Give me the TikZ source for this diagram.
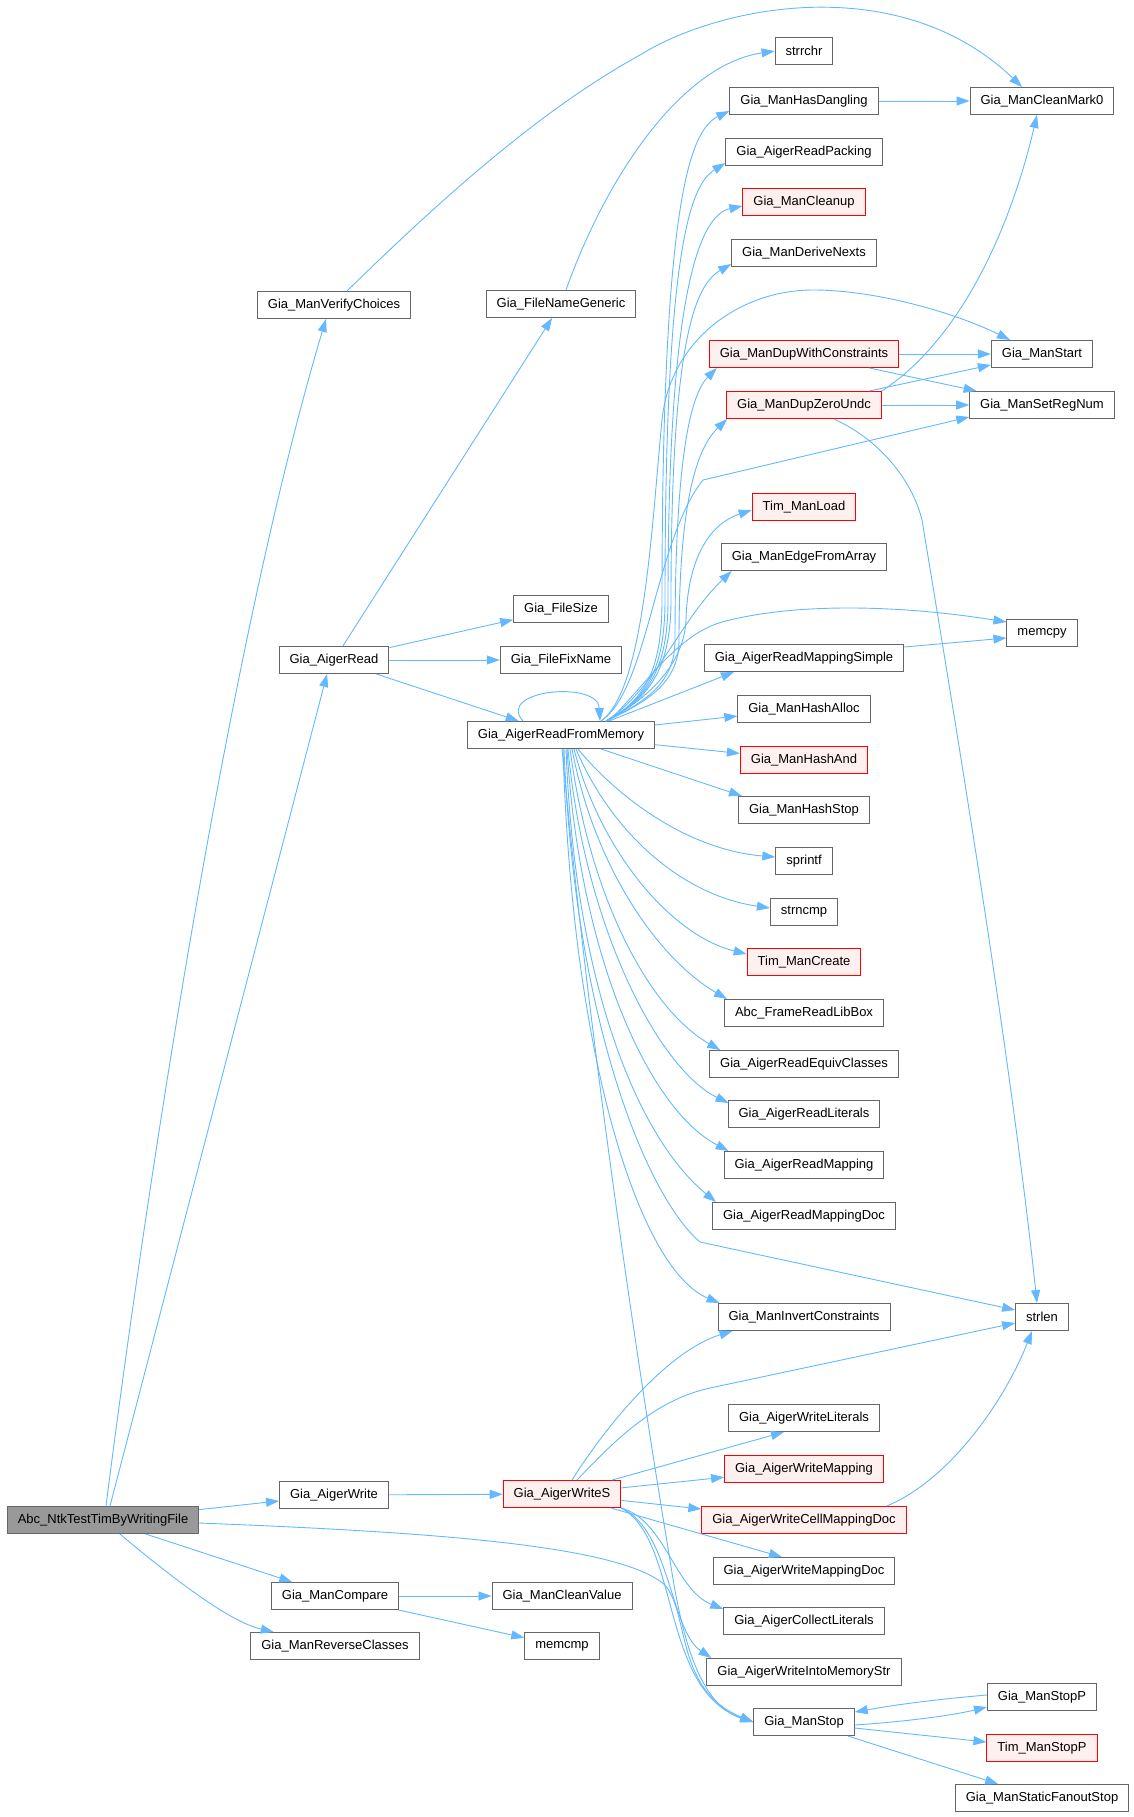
\documentclass[tikz,border=0pt]{standalone}
\usepackage{fontspec}
\setmainfont{Liberation Sans}
\usetikzlibrary{arrows.meta}
\definecolor{edgeblue}{HTML}{63B8FF}
\definecolor{boxgray}{HTML}{666666}
\definecolor{hotfill}{HTML}{FFF0F0}
\definecolor{entryfill}{HTML}{999999}

\begin{document}
\begin{tikzpicture}[
  x=1pt, y=-1pt,
  fn/.style={draw=boxgray, fill=white, line width=1pt, minimum height=27pt, inner xsep=10.5pt, inner ysep=0pt, font=\fontsize{13}{15}\selectfont},
  hot/.style={fn, draw=red, fill=hotfill},
  entry/.style={fn, fill=entryfill},
  edge/.style={-{Triangle[length=13pt,width=9pt]}, draw=edgeblue, line width=0.9pt}
]
\useasboundingbox (0,0) rectangle (1134,1817);

% callers on the left
\node[entry] (root) at (103,1520) {Abc\_NtkTestTimByWritingFile};
\node[fn] (verify) at (334,305) {Gia\_ManVerifyChoices};
\node[fn] (aread) at (334,660) {Gia\_AigerRead};
\node[fn] (awrite) at (334,1495) {Gia\_AigerWrite};
\node[fn] (compare) at (335,1596) {Gia\_ManCompare};
\node[fn] (reverse) at (335,1646) {Gia\_ManReverseClasses};

% second column
\node[fn] (fname) at (561,304) {Gia\_FileNameGeneric};
\node[fn] (fsize) at (561,609) {Gia\_FileSize};
\node[fn] (ffix) at (561,660) {Gia\_FileFixName};
\node[fn] (rmem) at (561,735) {Gia\_AigerReadFromMemory};
\node[hot] (writes) at (562,1494) {Gia\_AigerWriteS};
\node[fn] (cleanval) at (562,1596) {Gia\_ManCleanValue};
\node[fn] (memcmp) at (562,1646) {memcmp};

% third column
\node[fn] (strrchr) at (804,51) {strrchr};
\node[fn] (hasdang) at (804,101) {Gia\_ManHasDangling};
\node[fn] (packing) at (804,152) {Gia\_AigerReadPacking};
\node[hot] (cleanup) at (804,202) {Gia\_ManCleanup};
\node[fn] (nexts) at (804,253) {Gia\_ManDeriveNexts};
\node[hot] (dupwc) at (804,354) {Gia\_ManDupWithConstraints};
\node[hot] (dupzu) at (804,405) {Gia\_ManDupZeroUndc};
\node[hot] (tload) at (804,507) {Tim\_ManLoad};
\node[fn] (edgearr) at (804,557) {Gia\_ManEdgeFromArray};
\node[fn] (rmapsimple) at (804,658) {Gia\_AigerReadMappingSimple};
\node[fn] (hashalloc) at (804,709) {Gia\_ManHashAlloc};
\node[hot] (hashand) at (804,760) {Gia\_ManHashAnd};
\node[fn] (hashstop) at (804,810) {Gia\_ManHashStop};
\node[fn] (sprintf) at (804,861) {sprintf};
\node[fn] (strncmp) at (804,912) {strncmp};
\node[hot] (tcreate) at (804,962) {Tim\_ManCreate};
\node[fn] (libbox) at (804,1013) {Abc\_FrameReadLibBox};
\node[fn] (equiv) at (804,1064) {Gia\_AigerReadEquivClasses};
\node[fn] (rlits) at (804,1114) {Gia\_AigerReadLiterals};
\node[fn] (rmap) at (804,1165) {Gia\_AigerReadMapping};
\node[fn] (rmapdoc) at (804,1216) {Gia\_AigerReadMappingDoc};
\node[fn] (invert) at (804,1317) {Gia\_ManInvertConstraints};
\node[fn] (wlits) at (804,1418) {Gia\_AigerWriteLiterals};
\node[hot] (wmap) at (804,1469) {Gia\_AigerWriteMapping};
\node[hot] (wcell) at (804,1520) {Gia\_AigerWriteCellMappingDoc};
\node[fn] (wmapdoc) at (804,1571) {Gia\_AigerWriteMappingDoc};
\node[fn] (collect) at (804,1621) {Gia\_AigerCollectLiterals};
\node[fn] (wmem) at (804,1672) {Gia\_AigerWriteIntoMemoryStr};
\node[fn] (stop) at (804,1722) {Gia\_ManStop};

% right column
\node[fn] (cmark0) at (1042,101) {Gia\_ManCleanMark0};
\node[fn] (mstart) at (1042,354) {Gia\_ManStart};
\node[fn] (setreg) at (1042,405) {Gia\_ManSetRegNum};
\node[fn] (memcpy) at (1042,633) {memcpy};
\node[fn] (strlen) at (1042,1317) {strlen};
\node[fn] (stopp) at (1042,1697) {Gia\_ManStopP};
\node[hot] (tstopp) at (1042,1748) {Tim\_ManStopP};
\node[fn] (fanout) at (1042,1798) {Gia\_ManStaticFanoutStop};

% entry point
\draw[edge] ([xshift=3pt]root.north) .. controls (144,1207) and (227,650) .. ([xshift=-8pt]verify.south);
\draw[edge] ([xshift=7pt]root.north) -- ([xshift=-7pt]aread.south);
\draw[edge] (root) -- (awrite);
\draw[edge] (root) -- (compare);
\draw[edge] (root) .. controls (175,1580) and (230,1622) .. (reverse);
\draw[edge] ([yshift=-3pt]root.east) .. controls (430,1532) and (620,1545) .. (665,1585) .. controls (690,1615) and (675,1690) .. (stop.west);

% reading
\foreach \t in {fname,fsize,ffix,rmem} \draw[edge] (aread) -- (\t);
\draw[edge] ([xshift=13pt]verify.north) .. controls (440,200) and (540,110) .. (640,55) .. controls (720,5) and (900,-30) .. ([xshift=-20pt]cmark0.north);
\draw[edge] ([xshift=5pt]fname.north) .. controls (605,180) and (680,65) .. (strrchr.west);
\draw[edge] ([xshift=-38pt]rmem.north) .. controls (495,690) and (598,680) .. ([xshift=39pt]rmem.north);

% from the reader, upwards
\draw[edge] ([xshift=45pt]rmem.north) .. controls (645,700) and (662,670) .. (662,600) .. controls (662,200) and (690,130) .. ([yshift=4pt]hasdang.south west);
\draw[edge] ([xshift=45pt]rmem.north) .. controls (646,700) and (665,670) .. (665,600) .. controls (665,250) and (690,185) .. ([yshift=3pt]packing.south west);
\draw[edge] ([xshift=45pt]rmem.north) .. controls (647,700) and (668,670) .. (668,600) .. controls (668,290) and (700,215) .. ([yshift=-4pt]cleanup.west);
\draw[edge] ([xshift=45pt]rmem.north) .. controls (648,700) and (671,670) .. (671,600) .. controls (671,340) and (695,285) .. ([yshift=3pt]nexts.south west);
\draw[edge] ([xshift=45pt]rmem.north) .. controls (650,700) and (675,680) .. (675,640) .. controls (675,460) and (690,395) .. ([xshift=8pt]dupwc.south west);
\draw[edge] ([xshift=45pt]rmem.north) .. controls (652,700) and (679,680) .. (679,640) .. controls (679,490) and (700,445) .. ([xshift=1pt]dupzu.south west);
\draw[edge] ([xshift=45pt]rmem.north) .. controls (655,695) and (684,660) .. (686,620) .. controls (688,550) and (715,522) .. ([yshift=-3pt]tload.west);
\draw[edge] ([xshift=45pt]rmem.north) .. controls (655,690) and (680,620) .. ([xshift=11pt]edgearr.south west);
\draw[edge] ([xshift=40pt]rmem.north) .. controls (645,690) and (652,520) .. (662,420) .. controls (670,340) and (740,290) .. (813,290) .. controls (880,290) and (960,315) .. ([xshift=-32pt]mstart.north);
\draw[edge] ([xshift=40pt]rmem.north) .. controls (648,690) and (655,540) .. (703,480) -- ([yshift=2pt]setreg.south west);
\draw[edge] ([xshift=48pt]rmem.north) .. controls (650,680) and (680,630) .. (730,620) .. controls (800,603) and (900,605) .. ([yshift=11pt]memcpy.west);
\draw[edge] ([xshift=48pt]rmem.north) -- ([xshift=-70pt]rmapsimple.south);
\foreach \t in {hashalloc,hashand} \draw[edge] (rmem) -- (\t);
\draw[edge] ([xshift=40pt]rmem.south) -- ([xshift=-62pt]hashstop.north);

% from the reader, downwards
\draw[edge] ([xshift=17pt]rmem.south) .. controls (620,800) and (690,850) .. ([yshift=4pt]sprintf.west);
\draw[edge] ([xshift=15pt]rmem.south) .. controls (610,830) and (680,895) .. ([yshift=4pt]strncmp.west);
\draw[edge] ([xshift=13pt]rmem.south) .. controls (600,850) and (670,935) .. ([yshift=8pt]tcreate.west);
\draw[edge] ([xshift=11pt]rmem.south) .. controls (595,870) and (660,960) .. ([xshift=3pt]libbox.north west);
\draw[edge] ([xshift=9pt]rmem.south) .. controls (590,900) and (650,1010) .. ([xshift=11pt]equiv.north west);
\draw[edge] ([xshift=7pt]rmem.south) .. controls (585,930) and (660,1070) .. ([xshift=1pt,yshift=-3pt]rlits.north west);
\draw[edge] ([xshift=6pt]rmem.south) .. controls (580,960) and (650,1110) .. ([xshift=5pt]rmap.north west);
\draw[edge] ([xshift=5pt]rmem.south) .. controls (575,990) and (640,1140) .. ([xshift=4pt]rmapdoc.north west);
\draw[edge] ([xshift=3pt]rmem.south) .. controls (575,1030) and (650,1200) .. (700,1242) -- ([yshift=7pt]strlen.west);
\draw[edge] ([xshift=2pt]rmem.south) .. controls (572,1060) and (640,1270) .. ([xshift=2pt]invert.north west);
\draw[edge] ([xshift=1pt]rmem.south) .. controls (590,1050) and (640,1380) .. (670,1560) .. controls (682,1640) and (700,1705) .. (stop.west);

% third column callees
\draw[edge] (hasdang) -- (cmark0);
\draw[edge] (dupwc) -- (mstart);
\draw[edge] (dupwc) -- (setreg);
\draw[edge] (dupzu) -- (mstart);
\draw[edge] (dupzu) -- (setreg);
\draw[edge] (dupzu.north east) .. controls (960,340) and (1010,230) .. ([xshift=-5pt]cmark0.south);
\draw[edge] ([xshift=30pt]dupzu.south) .. controls (880,440) and (912,480) .. (922,520) .. controls (955,720) and (1010,1050) .. ([xshift=-5pt]strlen.north);
\draw[edge] ([yshift=-3pt]rmapsimple.north east) -- ([yshift=-5pt]memcpy.west);

% writing
\draw[edge] (awrite) -- (writes);
\draw[edge] ([xshift=10pt]writes.north) .. controls (610,1420) and (670,1350) .. ([xshift=15pt]invert.south west);
\draw[edge] ([xshift=15pt]writes.north) .. controls (615,1440) and (655,1400) .. (710,1388) -- ([yshift=-6pt]strlen.west);
\draw[edge] (writes) -- ([xshift=-20pt]wlits.south);
\draw[edge] (writes) -- (wmap);
\draw[edge] (writes) -- (wcell);
\draw[edge] (writes) -- ([xshift=-22pt]wmapdoc.north);
\draw[edge] (writes.south east) .. controls (665,1520) and (675,1590) .. ([yshift=-2pt]collect.north west);
\draw[edge] (writes.south east) .. controls (670,1530) and (670,1630) .. ([xshift=5pt]wmem.north west);
\draw[edge] (writes.south east) .. controls (680,1540) and (660,1690) .. (stop.west);
\draw[edge] ([xshift=-20pt]wcell.north east) .. controls (950,1480) and (1005,1400) .. ([xshift=-10pt]strlen.south);

% compare
\draw[edge] (compare) -- (cleanval);
\draw[edge] (compare) -- (memcmp);

% stop
\draw[edge] ([yshift=-3pt]stop.east) .. controls (900,1722) and (950,1716) .. ([yshift=-10pt]stopp.west);
\draw[edge] ([yshift=2pt]stopp.west) .. controls (940,1699) and (900,1704) .. ([yshift=10pt]stop.east);
\draw[edge] ([yshift=-6pt]stop.east) -- ([yshift=6pt]tstopp.west);
\draw[edge] (stop) -- (fanout);
\end{tikzpicture}
\end{document}
